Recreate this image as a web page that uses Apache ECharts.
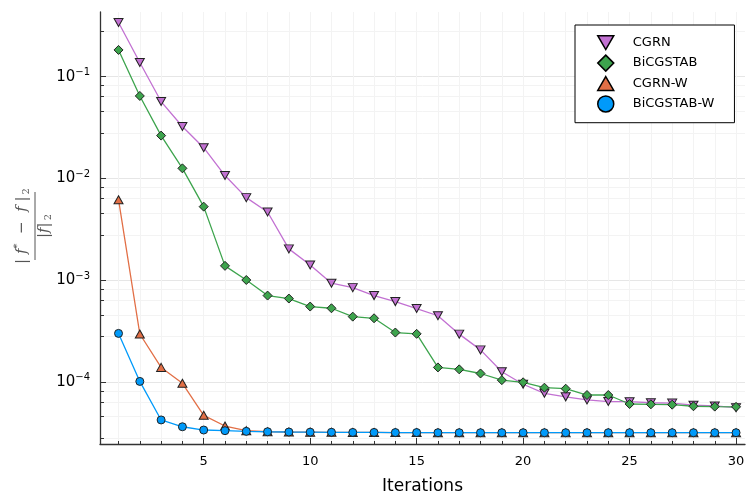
<!DOCTYPE html>
<html><head><meta charset="utf-8">
<script src="https://cdn.jsdelivr.net/npm/echarts@6/dist/echarts.min.js"></script>
<style>html,body{margin:0;padding:0;background:#fff}#c{width:746px;height:496px}</style>
</head><body><div id="c"></div>
<script>
const iterations = [1,2,3,4,5,6,7,8,9,10,11,12,13,14,15,16,17,18,19,20,21,22,23,24,25,26,27,28,29,30];
const seriesNames = ['CGRN','BiCGSTAB','CGRN-W','BiCGSTAB-W'];
const cgrn = [0.34,0.138,0.057,0.0324,0.0201,0.0107,0.0065,0.0047,0.00204,0.00142,0.00094,0.00085,0.00071,0.00062,0.00053,0.00045,0.000297,0.000208,0.000127,0.0000957,0.000078,0.000072,0.0000672,0.0000647,0.0000645,0.000063,0.0000625,0.0000596,0.0000586,0.0000564];
const bicgstab = [0.183,0.0647,0.0264,0.0126,0.0053,0.00139,0.00101,0.00071,0.000664,0.000554,0.000533,0.000441,0.000425,0.000308,0.000299,0.00014,0.000134,0.000122,0.000105,0.0001,0.0000885,0.0000865,0.000075,0.000075,0.0000612,0.0000608,0.0000603,0.0000582,0.0000577,0.0000574];
const cgrnW = [0.0062,0.000298,0.00014,0.0000978,0.0000474,0.0000372,0.0000335,0.0000327,0.0000325,0.0000324,0.0000323,0.0000322,0.0000322,0.0000321,0.0000321,0.000032,0.000032,0.000032,0.000032,0.000032,0.000032,0.000032,0.000032,0.000032,0.000032,0.000032,0.000032,0.000032,0.000032,0.000032];
const bicgstabW = [0.000302,0.000102,0.0000427,0.0000366,0.000034,0.0000335,0.000033,0.0000327,0.0000325,0.0000324,0.0000323,0.0000322,0.0000322,0.0000321,0.0000321,0.000032,0.000032,0.000032,0.000032,0.000032,0.000032,0.000032,0.000032,0.000032,0.000032,0.000032,0.000032,0.000032,0.000032,0.000032];
const xMajorTicks = [5,10,15,20,25,30];
const xMinorTicks = iterations;
const yMajorTicks = [1e-4,1e-3,1e-2,1e-1];
const yMinorTicks = [2.8e-5,4.6e-5,6.4e-5,8.2e-5,2.8e-4,4.6e-4,6.4e-4,8.2e-4,2.8e-3,4.6e-3,6.4e-3,8.2e-3,2.8e-2,4.6e-2,6.4e-2,8.2e-2,0.28];

const colors = ['#c271d2','#3da44d','#e26f46','#009afa'];
const downTri = 'path://M0,0L10,0L5,8.66Z';
const upTri = 'path://M5,0L10,8.66L0,8.66Z';
const symbols = [downTri,'diamond',upTri,'circle'];
const sizes = [[9,8],[9,9],[9,8],[8,8]];
const values = [cgrn,bicgstab,cgrnW,bicgstabW];

const FONT = 'DejaVu Sans';
const yMin = 2.479e-5, yMax = 0.4315, xMin = 0.13, xMax = 30.42;
const axisColor = '#333';
const lab = '#555';

const chart = echarts.init(document.getElementById('c'), null, {renderer:'canvas'});
chart.setOption({
  animation:false,
  backgroundColor:'#fff',
  grid: {left:100, top:12, width:645, height:432, containLabel:false, outerBoundsMode:'none'},
  legend: {
    orient:'vertical', left:575, top:25,
    padding:[10,20,10,22],
    itemWidth:16, itemHeight:16, itemGap:4,
    borderColor:'#000', borderWidth:1, backgroundColor:'#fff',
    textStyle:{fontFamily:FONT, fontSize:13, color:'#000', padding:[0,0,0,14]},
    itemStyle:{borderColor:'#000', borderWidth:1.5},
    data: seriesNames.map((n,i)=>({name:n, icon:symbols[i]}))
  },
  xAxis: [
    {type:'value', min:xMin, max:xMax, position:'bottom',
     name:'Iterations', nameLocation:'middle', nameGap:34,
     nameTextStyle:{fontFamily:FONT, fontSize:17, color:'#000'},
     axisLine:{show:true, onZero:false, lineStyle:{color:axisColor, width:1.3}},
     axisTick:{show:true, inside:true, length:6, customValues:xMajorTicks, lineStyle:{color:axisColor, width:1}},
     axisLabel:{show:true, customValues:xMajorTicks, fontFamily:FONT, fontSize:13, color:'#000', margin:11},
     splitLine:{show:true, lineStyle:{color:'#e6e6e6', width:1}}},
    {type:'value', min:xMin, max:xMax, position:'bottom',
     axisLine:{show:false},
     axisTick:{show:true, inside:true, length:3, customValues:xMinorTicks, lineStyle:{color:axisColor, width:1}},
     axisLabel:{show:false},
     splitLine:{show:true, lineStyle:{color:'#f3f3f3', width:1}}}
  ],
  yAxis: [
    {type:'log', logBase:10, min:yMin, max:yMax, position:'left',
     axisLine:{show:true, onZero:false, lineStyle:{color:axisColor, width:1.3}},
     axisTick:{show:true, inside:true, length:6, customValues:yMajorTicks, lineStyle:{color:axisColor, width:1}},
     axisLabel:{show:true, customValues:yMajorTicks, margin:10, color:'#000',
       formatter:function(v){const e=Math.round(Math.log10(v)); return '{b|10}{s|\u2212'+(-e)+'}';},
       rich:{b:{fontFamily:FONT, fontSize:15, color:'#000'}, s:{fontFamily:FONT, fontSize:10, color:'#000', padding:[0,0,9,0]}}},
     splitLine:{show:true, lineStyle:{color:'#e6e6e6', width:1}}},
    {type:'log', logBase:10, min:yMin, max:yMax, position:'left',
     axisLine:{show:false},
     axisTick:{show:true, inside:true, length:4, customValues:yMinorTicks, lineStyle:{color:axisColor, width:1}},
     axisLabel:{show:false},
     splitLine:{show:true, lineStyle:{color:'#f3f3f3', width:1}}}
  ],
  series: seriesNames.map((n,i)=>({
    name:n, type:'line', xAxisIndex:0, yAxisIndex:0,
    data: iterations.map((x,k)=>[x, values[i][k]]),
    symbol:symbols[i], symbolSize:sizes[i], showSymbol:true,
    lineStyle:{color:colors[i], width:1.3},
    itemStyle:{color:colors[i], borderColor:'#222', borderWidth:1},
    emphasis:{disabled:true}, z:2+i
  })),
  graphic: [{
    type:'group', x:35, y:226, rotation:Math.PI/2,
    children:[
      {type:'text', x:0, y:-13, style:{text:'{t||}{i| f}{p|*}{t|  \u2212  }{i|f}{t| |}{q|2}', align:'center', verticalAlign:'middle',
        rich:{t:{fontFamily:'DejaVu Serif', fontSize:15, fill:lab}, i:{fontFamily:'DejaVu Serif', fontStyle:'italic', fontSize:15, fill:lab}, p:{fontFamily:'DejaVu Serif', fontSize:10, fill:lab, padding:[0,0,9,0]}, q:{fontFamily:'DejaVu Serif', fontSize:10, fill:lab, padding:[8,0,0,2]}}}},
      {type:'line', shape:{x1:-34, y1:0, x2:34, y2:0}, style:{stroke:lab, lineWidth:1}},
      {type:'text', x:0, y:9, style:{text:'{t||}{i|f}{t||}{q|2}', align:'center', verticalAlign:'middle',
        rich:{t:{fontFamily:'DejaVu Serif', fontSize:15, fill:lab}, i:{fontFamily:'DejaVu Serif', fontStyle:'italic', fontSize:15, fill:lab}, q:{fontFamily:'DejaVu Serif', fontSize:10, fill:lab, padding:[8,0,0,2]}}}}
    ]
  }]
});
</script></body></html>
